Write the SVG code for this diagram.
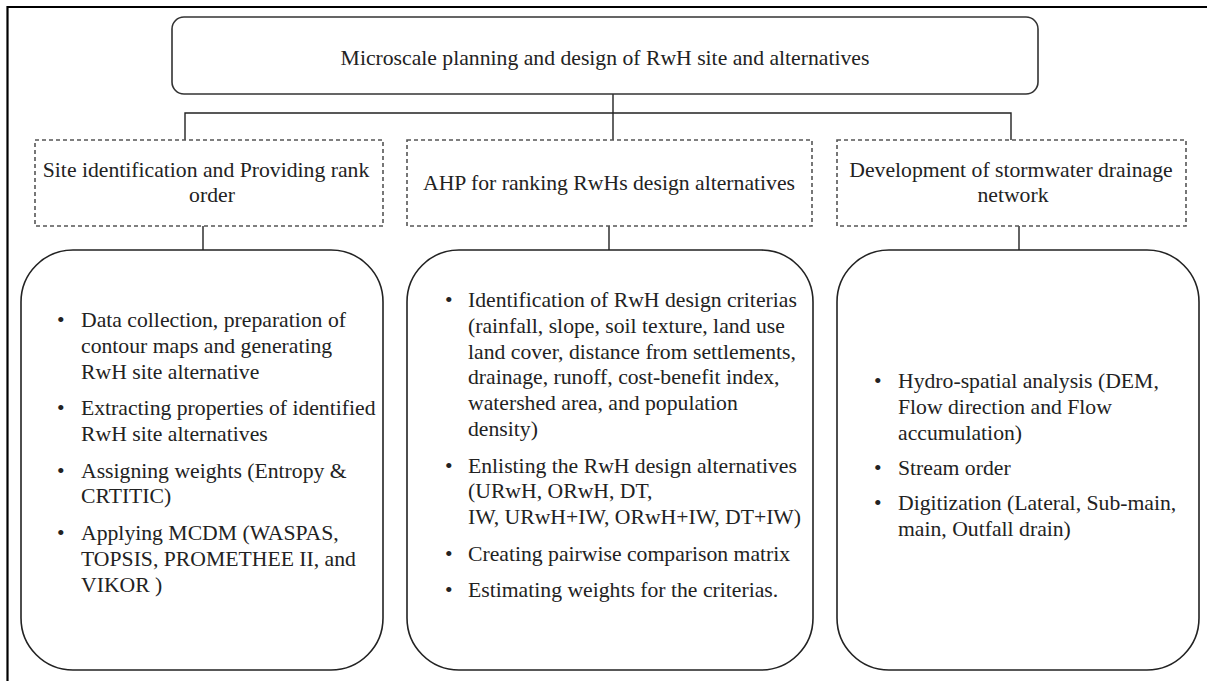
<svg xmlns="http://www.w3.org/2000/svg" width="1207" height="681" viewBox="0 0 1207 681">
  <style>
    .frame { fill: none; stroke: #000; stroke-width: 2.2; }
    .head { fill: #fff; stroke: #333; stroke-width: 1.6; }
    .dash { fill: #fff; stroke: #555; stroke-width: 1.6; stroke-dasharray: 4 3; }
    .panel { fill: #fff; stroke: #222; stroke-width: 1.6; }
    .link { fill: none; stroke: #222; stroke-width: 1.4; }
    text { font-family: "Liberation Serif", "Times New Roman", serif; font-size: 21.7px; fill: #222; }
    .c { text-anchor: middle; }
  </style>

  <!-- page frame (open on right and bottom) -->
  <path class="frame" d="M7.5 681 V7 H1207"/>

  <!-- connectors -->
  <g id="connectors">
    <path class="link" d="M613 94 V140"/>
    <path class="link" d="M185 140 V113 H1011 V140"/>
    <path class="link" d="M203 226 V250"/>
    <path class="link" d="M609 226 V250"/>
    <path class="link" d="M1019 226 V250"/>
  </g>

  <!-- root -->
  <g id="root">
    <rect class="head" x="172" y="17" width="866" height="77" rx="12" ry="12"/>
    <text class="c" x="605" y="65">Microscale planning and design of RwH site and alternatives</text>
  </g>

  <!-- second level -->
  <g id="site-identification">
    <rect class="dash" x="35" y="140" width="348" height="86"/>
    <text class="c" x="206" y="177">Site identification and Providing rank</text>
    <text class="c" x="212" y="202">order</text>
  </g>
  <g id="ahp-ranking">
    <rect class="dash" x="407" y="140" width="405" height="86"/>
    <text class="c" x="609" y="190">AHP for ranking RwHs design alternatives</text>
  </g>
  <g id="stormwater-network">
    <rect class="dash" x="837" y="140" width="349" height="86"/>
    <text class="c" x="1011" y="177">Development of stormwater drainage</text>
    <text class="c" x="1013" y="202">network</text>
  </g>

  <!-- detail panels -->
  <g id="site-steps">
    <rect class="panel" x="21" y="250" width="362" height="420" rx="52" ry="52"/>
    <text x="57" y="327">•</text>
    <text x="81" y="327">Data collection, preparation of</text>
    <text x="81" y="352.8">contour maps and generating</text>
    <text x="81" y="378.6">RwH site alternative</text>
    <text x="57" y="415">•</text>
    <text x="81" y="415">Extracting properties of identified</text>
    <text x="81" y="440.8">RwH site alternatives</text>
    <text x="57" y="477.5">•</text>
    <text x="81" y="477.5">Assigning weights (Entropy &amp;</text>
    <text x="81" y="503.3">CRTITIC)</text>
    <text x="57" y="540">•</text>
    <text x="81" y="540">Applying MCDM (WASPAS,</text>
    <text x="81" y="565.8">TOPSIS, PROMETHEE II, and</text>
    <text x="81" y="591.6">VIKOR )</text>
  </g>

  <g id="ahp-steps">
    <rect class="panel" x="407" y="250" width="406" height="420" rx="52" ry="52"/>
    <text x="445" y="307">•</text>
    <text x="468" y="307">Identification of RwH design criterias</text>
    <text x="468" y="332.8">(rainfall, slope, soil texture, land use</text>
    <text x="468" y="358.6">land cover, distance from settlements,</text>
    <text x="468" y="384.4">drainage, runoff, cost-benefit index,</text>
    <text x="468" y="410.2">watershed area, and population</text>
    <text x="468" y="436">density)</text>
    <text x="445" y="472.5">•</text>
    <text x="468" y="472.5">Enlisting the RwH design alternatives</text>
    <text x="468" y="498.3">(URwH, ORwH, DT,</text>
    <text x="468" y="524.1">IW, URwH+IW, ORwH+IW, DT+IW)</text>
    <text x="445" y="560.5">•</text>
    <text x="468" y="560.5">Creating pairwise comparison matrix</text>
    <text x="445" y="597">•</text>
    <text x="468" y="597">Estimating weights for the criterias.</text>
  </g>

  <g id="network-steps">
    <rect class="panel" x="837" y="250" width="362" height="420" rx="52" ry="52"/>
    <text x="874" y="388">•</text>
    <text x="898" y="388">Hydro-spatial analysis (DEM,</text>
    <text x="898" y="413.8">Flow direction and Flow</text>
    <text x="898" y="439.6">accumulation)</text>
    <text x="874" y="475">•</text>
    <text x="898" y="475">Stream order</text>
    <text x="874" y="510">•</text>
    <text x="898" y="510">Digitization (Lateral, Sub-main,</text>
    <text x="898" y="535.8">main, Outfall drain)</text>
  </g>
</svg>
